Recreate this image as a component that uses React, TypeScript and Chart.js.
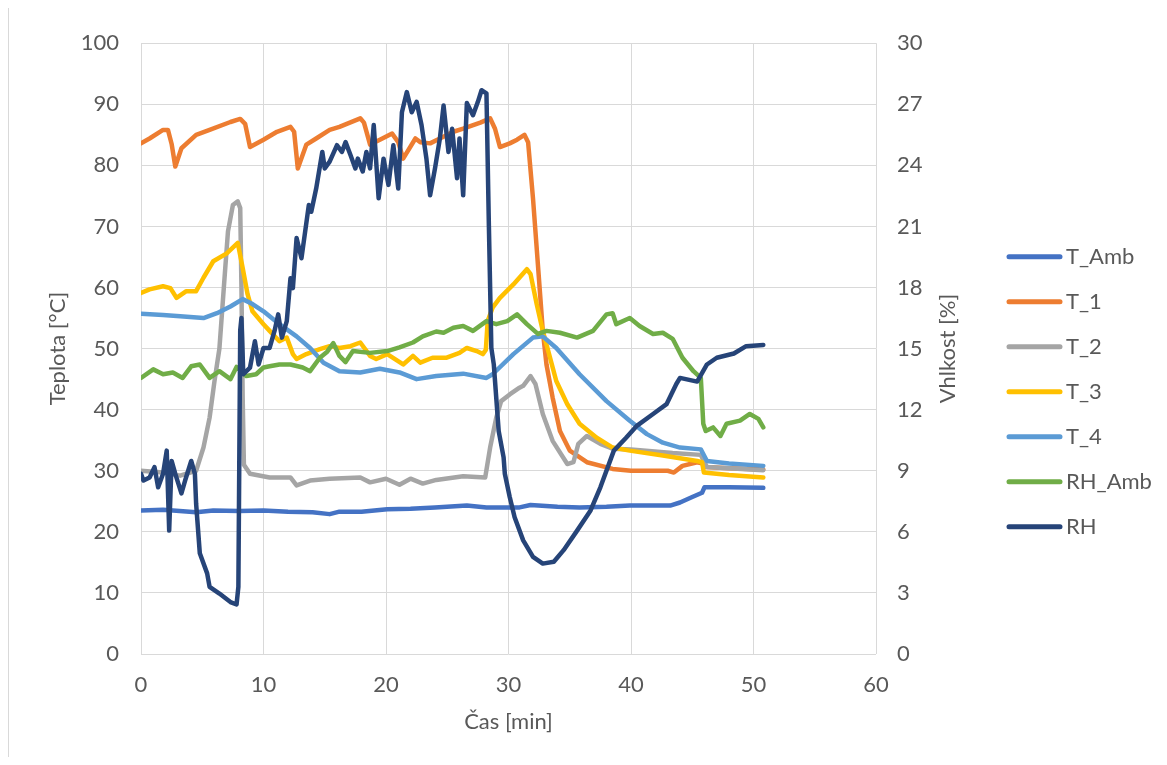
import React, { useEffect, useRef } from "react";
import { Chart, registerables } from "chart.js";

Chart.register(...registerables);

// ---------- text & style constants ----------
const FONT_FAMILY = "Lato, 'Open Sans', sans-serif";
const FONT_SIZE = 22;
const TEXT_COLOR = "#595959";
const GRID_COLOR = "#d9d9d9";

const xTitle = "Čas [min]";
const yLeftTitle = "Teplota [°C]";
const yRightTitle = "Vhlkost [%]";

const xTickMin = 0;
const xTickMax = 60;
const xTickStep = 10;
const yLeftMin = 0;
const yLeftMax = 100;
const yLeftStep = 10;
const yRightMin = 0;
const yRightMax = 30;
const yRightStep = 3;

const seriesNames = ["T_Amb", "T_1", "T_2", "T_3", "T_4", "RH_Amb", "RH"];
const seriesColors = ["#4472C4", "#ED7D31", "#A5A5A5", "#FFC000", "#5B9BD5", "#70AD47", "#264478"];

// ---------- data (time in min) ----------
const tAmbTime = [0, 1.8, 4.5, 5.9, 8, 10, 12, 14, 15.4, 16.2, 18, 20.1, 22, 24, 26.6, 28.2, 30.9, 31.8, 34, 35.8, 38, 39.9, 42, 43.2, 44, 45, 45.8, 46.0, 48, 50.8];
const tAmbValues = [23.5, 23.6, 23.2, 23.5, 23.4, 23.5, 23.3, 23.2, 22.9, 23.3, 23.3, 23.7, 23.8, 24.0, 24.3, 24.0, 24.0, 24.4, 24.1, 24.0, 24.1, 24.3, 24.3, 24.3, 24.8, 25.7, 26.4, 27.3, 27.3, 27.2];

const t1Time = [0, 0.7, 1.8, 2.2, 2.5, 2.8, 3.3, 4.5, 5.6, 7.3, 8.1, 8.5, 8.9, 10, 11.1, 12.2, 12.5, 12.8, 13.5, 14.3, 15.4, 16.2, 17.9, 18.2, 18.7, 19.5, 20.5, 21.0, 21.4, 22.4, 22.8, 23.6, 24.4, 25.5, 26.3, 27.7, 28.5, 28.9, 29.3, 30.1, 30.7, 31.3, 31.6, 32.0, 32.4, 32.8, 33.1, 33.6, 34.2, 35.0, 36.4, 38.5, 40, 43.0, 43.5, 44.2, 45.4, 45.8, 46.1, 48, 50.8];
const t1Values = [83.6, 84.4, 85.8, 85.8, 83.5, 79.8, 82.8, 85.0, 85.8, 87.1, 87.6, 86.8, 83.0, 84.2, 85.5, 86.3, 85.5, 79.5, 83.4, 84.4, 85.8, 86.3, 87.7, 87.0, 83.4, 84.2, 85.2, 83.8, 81.1, 84.4, 83.8, 83.6, 84.4, 85.5, 86.0, 87.0, 87.7, 86.0, 83.0, 83.6, 84.2, 85.0, 83.8, 74.6, 63.8, 52.9, 47.4, 42.0, 36.5, 33.3, 31.4, 30.3, 30.0, 30.0, 29.7, 30.8, 31.4, 31.2, 30.6, 30.4, 30.2];

const t2Time = [0, 1.8, 3.2, 4.5, 5.1, 5.6, 6.0, 6.4, 6.9, 7.1, 7.5, 7.9, 8.1, 8.2, 8.3, 8.4, 8.9, 10.5, 12.2, 12.7, 13.8, 15.4, 17.9, 18.7, 20.0, 21.1, 22.0, 23.0, 24.1, 26.3, 28.1, 28.5, 29.0, 29.4, 30.1, 30.9, 31.2, 31.8, 32.2, 32.8, 33.6, 34.8, 35.3, 35.7, 36.4, 37.5, 38.5, 40, 43.4, 45.7, 46.2, 48, 50.8];
const t2Values = [30.0, 29.7, 29.2, 30.0, 33.8, 38.7, 44.7, 50.0, 63.8, 69.2, 73.5, 74.1, 73.0, 60.0, 42.0, 31.0, 29.5, 28.9, 28.9, 27.6, 28.4, 28.7, 28.9, 28.1, 28.7, 27.7, 28.7, 27.9, 28.5, 29.1, 28.9, 33.8, 38.7, 41.4, 42.5, 43.6, 43.9, 45.5, 44.2, 39.3, 34.9, 31.1, 31.4, 34.4, 35.7, 34.4, 33.6, 33.5, 32.9, 32.6, 30.6, 30.4, 30.1];

const t3Time = [0, 0.7, 1.8, 2.4, 2.9, 3.7, 4.5, 5.1, 5.9, 7.0, 7.9, 8.3, 8.7, 9.1, 10, 10.5, 11.3, 11.9, 12.4, 12.7, 13.5, 14.6, 15.4, 16.2, 17.1, 17.9, 18.7, 19.2, 20.1, 21.4, 22.2, 22.8, 23.8, 24.9, 26.0, 26.6, 27.4, 27.9, 28.15, 28.3, 28.7, 29.3, 30.4, 31.5, 31.8, 32.3, 32.8, 33.1, 33.9, 34.8, 35.8, 37.2, 38.5, 39.9, 42.6, 45.4, 45.8, 45.95, 48, 50.8];
const t3Values = [59.1, 59.7, 60.2, 59.9, 58.3, 59.4, 59.4, 61.6, 64.3, 65.6, 67.3, 63.2, 58.9, 56.1, 54.0, 52.9, 51.2, 51.8, 49.1, 48.3, 49.1, 49.9, 50.4, 50.1, 50.4, 51.0, 48.8, 48.3, 49.1, 47.4, 48.8, 47.7, 48.5, 48.5, 49.3, 50.1, 49.6, 49.1, 49.8, 54.5, 56.7, 58.3, 60.5, 63.0, 62.2, 57.3, 52.9, 50.7, 44.7, 40.9, 37.7, 35.4, 33.8, 33.3, 32.5, 31.6, 31.4, 29.7, 29.3, 28.9];

const t4Time = [0, 1.8, 3.2, 5.1, 6.2, 7.3, 8.3, 9.1, 10, 11.3, 12.7, 13.8, 14.9, 16.2, 17.9, 19.5, 21.1, 22.5, 24.1, 26.3, 28.2, 28.7, 30.4, 32.0, 32.8, 33.9, 35.8, 38.0, 39.9, 41.3, 42.6, 44.0, 45.7, 46.2, 48, 50.8];
const t4Values = [55.7, 55.5, 55.3, 55.0, 55.8, 56.9, 58.1, 57.3, 56.1, 54.0, 52.0, 50.1, 47.7, 46.3, 46.1, 46.7, 46.1, 45.0, 45.5, 45.9, 45.2, 45.8, 49.1, 51.8, 52.0, 50.1, 45.8, 41.4, 38.2, 36.0, 34.6, 33.8, 33.5, 31.6, 31.2, 30.8];

// humidity series, in % (right axis)
const rhAmbTime = [0, 1.0, 1.8, 2.6, 3.4, 4.1, 4.8, 5.6, 6.4, 7.3, 7.8, 8.6, 9.4, 10.0, 10.5, 11.3, 12.2, 13.2, 13.8, 14.6, 15.2, 15.7, 16.2, 16.7, 17.3, 18.7, 20.1, 21.1, 22.2, 23.0, 24.1, 24.7, 25.5, 26.3, 27.1, 28.2, 29.0, 29.9, 30.7, 31.5, 32.4, 33.1, 34.2, 35.6, 36.9, 38.0, 38.5, 38.8, 39.9, 40.7, 41.8, 42.6, 43.4, 44.2, 45.1, 45.7, 45.9, 46.1, 46.7, 47.3, 47.8, 48.9, 49.7, 50.4, 50.8];
const rhAmbValues = [13.56, 13.98, 13.74, 13.83, 13.56, 14.13, 14.22, 13.56, 13.89, 13.5, 14.1, 13.65, 13.74, 14.07, 14.13, 14.22, 14.22, 14.07, 13.89, 14.55, 14.85, 15.27, 14.64, 14.34, 14.88, 14.79, 14.88, 15.06, 15.3, 15.6, 15.84, 15.78, 16.02, 16.11, 15.87, 16.35, 16.2, 16.35, 16.68, 16.2, 15.72, 15.87, 15.78, 15.54, 15.87, 16.68, 16.74, 16.2, 16.5, 16.11, 15.72, 15.78, 15.48, 14.55, 13.89, 13.56, 11.31, 10.95, 11.13, 10.71, 11.31, 11.46, 11.79, 11.55, 11.13];

const rhTime = [0, 0.2, 0.7, 1.1, 1.4, 1.8, 2.1, 2.3, 2.5, 2.8, 3.3, 3.6, 4.1, 4.4, 4.5, 4.8, 5.4, 5.6, 6.4, 7.3, 7.8, 7.95, 8.1, 8.2, 8.35, 8.9, 9.3, 9.6, 10.0, 10.5, 10.9, 11.2, 11.5, 11.9, 12.2, 12.4, 12.7, 13.1, 13.7, 13.9, 14.3, 14.8, 15.0, 15.4, 16.0, 16.4, 16.7, 17.1, 17.5, 17.7, 18.1, 18.4, 18.7, 19.0, 19.4, 19.8, 20.2, 20.6, 21.0, 21.3, 21.7, 22.1, 22.5, 22.9, 23.3, 23.6, 24.0, 24.4, 24.7, 25.1, 25.4, 25.8, 26.0, 26.3, 26.6, 27.1, 27.5, 27.8, 28.2, 28.4, 28.6, 28.8, 29.2, 29.6, 29.7, 30.1, 30.5, 31.2, 32.0, 32.8, 33.7, 34.5, 35.6, 36.7, 37.5, 38.6, 39.6, 40.5, 41.8, 42.9, 43.7, 44.0, 45.4, 46.2, 47.0, 48.4, 49.4, 50.8];
const rhValues = [8.85, 8.52, 8.67, 9.18, 8.19, 8.85, 9.99, 6.06, 9.48, 8.85, 7.89, 8.52, 9.48, 8.85, 7.38, 4.95, 3.96, 3.3, 2.97, 2.55, 2.43, 3.3, 15.9, 16.5, 13.74, 14.07, 15.36, 14.22, 15.03, 15.03, 15.87, 16.68, 15.54, 16.35, 18.45, 17.97, 20.43, 19.44, 22.05, 21.72, 22.86, 24.66, 23.85, 24.18, 24.99, 24.66, 25.14, 24.51, 23.85, 24.33, 23.7, 24.66, 23.85, 25.98, 22.38, 24.33, 23.04, 24.99, 22.86, 26.61, 27.6, 26.61, 27.12, 25.98, 24.33, 22.53, 23.85, 25.32, 26.94, 24.66, 25.8, 23.37, 25.32, 22.53, 27.06, 26.46, 27.12, 27.69, 27.54, 21.0, 15.03, 14.22, 10.95, 9.66, 8.85, 7.71, 6.72, 5.58, 4.77, 4.44, 4.53, 5.1, 6.06, 7.05, 8.19, 9.99, 10.62, 11.22, 11.79, 12.27, 13.26, 13.56, 13.38, 14.22, 14.55, 14.76, 15.12, 15.18];

// ---------- layout (canvas px) ----------
const CANVAS_W = 1151;
const CANVAS_H = 749;
const AREA_LEFT = 133;
const AREA_RIGHT = 868;
const AREA_TOP = 34;
const AREA_BOTTOM = 646;

const LEGEND_LINE_X0 = 1001;
const LEGEND_LINE_X1 = 1052;
const LEGEND_TEXT_X = 1058;
const LEGEND_Y0 = 248.7;
const LEGEND_GAP = 45;
const RIGHT_TITLE_X = 940;

const font = { family: FONT_FAMILY, size: FONT_SIZE };

const overlayPlugin = {
  id: "excelOverlay",
  afterDraw(chart: any) {
    const ctx: CanvasRenderingContext2D = chart.ctx;
    ctx.save();
    ctx.font = `${FONT_SIZE}px ${FONT_FAMILY}`;
    chart.data.datasets.forEach((ds: any, i: number) => {
      const y = LEGEND_Y0 + i * LEGEND_GAP;
      ctx.strokeStyle = ds.borderColor;
      ctx.lineWidth = 5;
      ctx.lineCap = "round";
      ctx.beginPath();
      ctx.moveTo(LEGEND_LINE_X0, y);
      ctx.lineTo(LEGEND_LINE_X1, y);
      ctx.stroke();
      ctx.fillStyle = TEXT_COLOR;
      ctx.textAlign = "left";
      ctx.textBaseline = "middle";
      ctx.fillText(ds.label, LEGEND_TEXT_X, y);
    });
    const area = chart.chartArea;
    ctx.translate(RIGHT_TITLE_X, (area.top + area.bottom) / 2);
    ctx.rotate(-Math.PI / 2);
    ctx.fillStyle = TEXT_COLOR;
    ctx.textAlign = "center";
    ctx.textBaseline = "middle";
    ctx.fillText(yRightTitle, 0, 0);
    ctx.restore();
  },
};

export default function App() {
  const ref = useRef<HTMLCanvasElement>(null);

  useEffect(() => {
    const canvas = ref.current;
    if (!canvas) return;
    const toPts = (xs: number[], ys: number[]) => xs.map((x, i) => ({ x, y: ys[i] }));
    const series: [number[], number[], string][] = [
      [tAmbTime, tAmbValues, "y"],
      [t1Time, t1Values, "y"],
      [t2Time, t2Values, "y"],
      [t3Time, t3Values, "y"],
      [t4Time, t4Values, "y"],
      [rhAmbTime, rhAmbValues, "y1"],
      [rhTime, rhValues, "y1"],
    ];
    const datasets = series.map(([xs, ys, axis], i) => ({
      label: seriesNames[i],
      data: toPts(xs, ys),
      yAxisID: axis,
      borderColor: seriesColors[i],
      backgroundColor: seriesColors[i],
      borderWidth: 4.5,
      pointRadius: 0,
      pointHoverRadius: 0,
      tension: 0,
      fill: false,
      borderJoinStyle: "round" as const,
      borderCapStyle: "round" as const,
      order: series.length - i,
    }));

    const chart = new Chart(canvas, {
      type: "line",
      data: { datasets },
      plugins: [overlayPlugin],
      options: {
        animation: false,
        responsive: false,
        maintainAspectRatio: false,
        layout: { padding: { left: 0, right: 0, top: AREA_TOP, bottom: 0 } },
        plugins: {
          legend: { display: false },
          tooltip: { enabled: false },
          title: { display: false },
        },
        scales: {
          x: {
            type: "linear",
            position: "bottom",
            min: xTickMin,
            max: xTickMax,
            ticks: { stepSize: xTickStep, padding: 18, color: TEXT_COLOR, font, maxRotation: 0 },
            grid: { color: GRID_COLOR, lineWidth: 1, drawTicks: false },
            border: { display: false },
            title: { display: true, text: xTitle, color: TEXT_COLOR, font, padding: { top: 0, bottom: 22 } },
            afterFit: (s: any) => {
              s.height = CANVAS_H - AREA_BOTTOM;
            },
          },
          y: {
            type: "linear",
            position: "left",
            min: yLeftMin,
            max: yLeftMax,
            ticks: { stepSize: yLeftStep, padding: 22, color: TEXT_COLOR, font },
            grid: { color: GRID_COLOR, lineWidth: 1, drawTicks: false },
            border: { display: false },
            title: { display: true, text: yLeftTitle, color: TEXT_COLOR, font, padding: { top: 37, bottom: 0 } },
            afterFit: (s: any) => {
              s.width = AREA_LEFT;
            },
          },
          y1: {
            type: "linear",
            position: "right",
            min: yRightMin,
            max: yRightMax,
            ticks: { stepSize: yRightStep, padding: 21, color: TEXT_COLOR, font },
            grid: { display: false, drawTicks: false },
            border: { display: false },
            title: { display: false },
            afterFit: (s: any) => {
              s.width = CANVAS_W - AREA_RIGHT;
            },
          },
        },
      },
    });
    return () => chart.destroy();
  }, []);

  return (
    <div
      style={{
        width: CANVAS_W,
        height: CANVAS_H,
        boxShadow: "inset 1px 0 0 #d9d9d9",
      }}
    >
      <canvas ref={ref} width={CANVAS_W} height={CANVAS_H} style={{ display: "block" }} />
    </div>
  );
}
